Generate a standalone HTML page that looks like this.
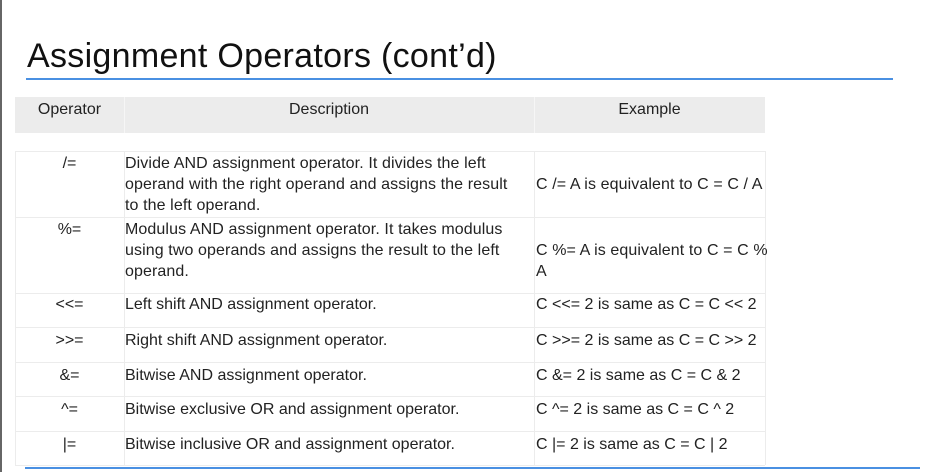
<!DOCTYPE html>
<html><head><meta charset="utf-8"><style>
body{margin:0;width:941px;height:472px;background:#fff;position:relative;overflow:hidden;font-family:"Liberation Sans",sans-serif;}
.a{position:absolute;}
.t{font-size:16px;color:#222;line-height:21px;white-space:nowrap;}
.c{text-align:center;}
.hl{position:absolute;height:1px;background:#ececec;}
.vl{position:absolute;width:1px;background:#ececec;}
</style></head><body>
<div class="a" style="left:0;top:0;width:2px;height:472px;background:#666"></div>
<div class="a" style="left:27px;top:37px;font-size:34px;color:#111;white-space:nowrap;letter-spacing:0.3px">Assignment Operators (cont’d)</div>
<div class="a" style="left:26px;top:78px;width:867px;height:2px;background:#4a90e2"></div>
<div class="a" style="left:15px;top:97px;width:750px;height:36px;background:#ececec"></div>
<div class="vl" style="left:124px;top:97px;height:36px;background:#f6f6f6"></div>
<div class="vl" style="left:534px;top:97px;height:36px;background:#f6f6f6"></div>
<div class="a t c" style="left:15px;top:99px;width:109px">Operator</div>
<div class="a t c" style="left:124px;top:99px;width:410px">Description</div>
<div class="a t c" style="left:534px;top:99px;width:231px">Example</div>

<div class="hl" style="left:15px;top:151px;width:750px"></div>
<div class="hl" style="left:15px;top:217px;width:750px"></div>
<div class="hl" style="left:15px;top:293px;width:750px"></div>
<div class="hl" style="left:15px;top:327px;width:750px"></div>
<div class="hl" style="left:15px;top:362px;width:750px"></div>
<div class="hl" style="left:15px;top:396px;width:750px"></div>
<div class="hl" style="left:15px;top:431px;width:750px"></div>
<div class="hl" style="left:15px;top:465px;width:750px"></div>
<div class="vl" style="left:15px;top:151px;height:314px"></div>
<div class="vl" style="left:124px;top:151px;height:314px"></div>
<div class="vl" style="left:534px;top:151px;height:314px"></div>
<div class="vl" style="left:765px;top:151px;height:314px"></div>

<div class="a t c" style="left:15px;top:153px;width:109px">/=</div>
<div class="a t" style="left:125px;top:153px;letter-spacing:0.1px">Divide AND assignment operator. It divides the left<br>operand with the right operand and assigns the result<br>to the left operand.</div>
<div class="a t" style="left:536px;top:174px;letter-spacing:0.1px">C /= A is equivalent to C = C / A</div>

<div class="a t c" style="left:15px;top:219px;width:109px">%=</div>
<div class="a t" style="left:125px;top:219px;letter-spacing:0.1px">Modulus AND assignment operator. It takes modulus<br>using two operands and assigns the result to the left<br>operand.</div>
<div class="a t" style="left:536px;top:240px;letter-spacing:0.1px">C %= A is equivalent to C = C %<br>A</div>

<div class="a t c" style="left:15px;top:294px;width:109px">&lt;&lt;=</div>
<div class="a t" style="left:125px;top:294px">Left shift AND assignment operator.</div>
<div class="a t" style="left:536px;top:294px">C &lt;&lt;= 2 is same as C = C &lt;&lt; 2</div>

<div class="a t c" style="left:15px;top:330px;width:109px">&gt;&gt;=</div>
<div class="a t" style="left:125px;top:330px">Right shift AND assignment operator.</div>
<div class="a t" style="left:536px;top:330px">C &gt;&gt;= 2 is same as C = C &gt;&gt; 2</div>

<div class="a t c" style="left:15px;top:365px;width:109px">&amp;=</div>
<div class="a t" style="left:125px;top:365px">Bitwise AND assignment operator.</div>
<div class="a t" style="left:536px;top:365px">C &amp;= 2 is same as C = C &amp; 2</div>

<div class="a t c" style="left:15px;top:399px;width:109px">^=</div>
<div class="a t" style="left:125px;top:399px">Bitwise exclusive OR and assignment operator.</div>
<div class="a t" style="left:536px;top:399px">C ^= 2 is same as C = C ^ 2</div>

<div class="a t c" style="left:15px;top:434px;width:109px">|=</div>
<div class="a t" style="left:125px;top:434px">Bitwise inclusive OR and assignment operator.</div>
<div class="a t" style="left:536px;top:434px">C |= 2 is same as C = C | 2</div>

<div class="a" style="left:25px;top:467px;width:895px;height:2px;background:#4a90e2"></div>
</body></html>
